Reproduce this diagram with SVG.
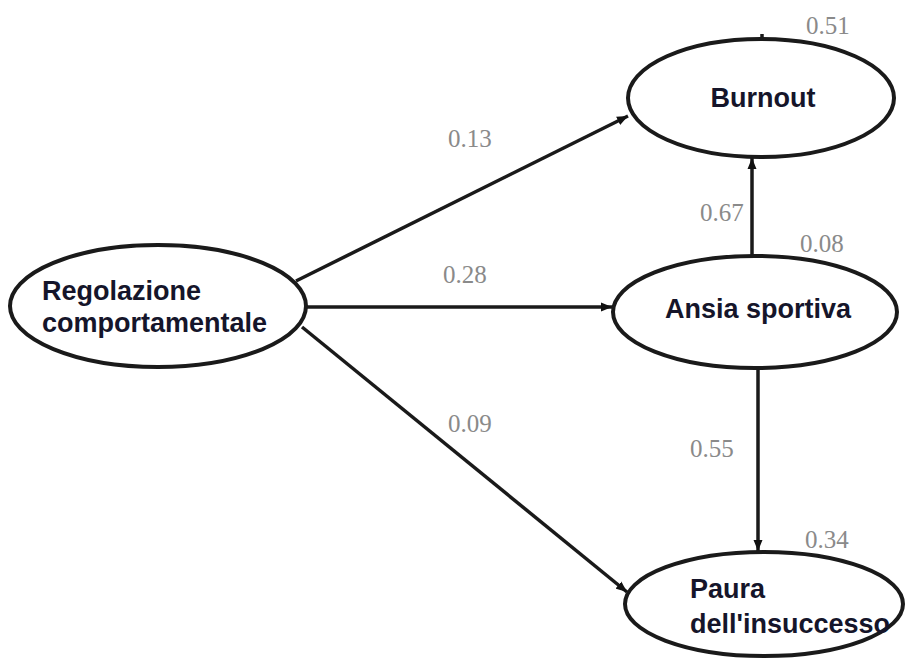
<svg xmlns="http://www.w3.org/2000/svg" width="907" height="666" viewBox="0 0 907 666">
<defs>
<marker id="arr" markerUnits="userSpaceOnUse" markerWidth="12" markerHeight="10" refX="11" refY="5" orient="auto">
<path d="M0,0.5 L11,5 L0,9.5 z" fill="#111"/>
</marker>
<style>
.node{fill:#fff;stroke:#1a1a1a;stroke-width:4}
.lbl{font-family:"Liberation Sans",Arial,sans-serif;font-weight:bold;font-size:27px;fill:#15152a}
.coef{font-family:"Liberation Serif","Times New Roman",serif;font-size:25px;fill:#8a8a8a}
.edge{stroke:#1a1a1a;stroke-width:3.5;fill:none}
</style>
</defs>
<rect width="907" height="666" fill="#fff"/>
<g id="connectors">
<line class="edge" x1="296" y1="281" x2="628" y2="116" marker-end="url(#arr)"/>
<line class="edge" x1="306" y1="307" x2="612" y2="307" marker-end="url(#arr)"/>
<line class="edge" x1="302" y1="327" x2="627" y2="592" marker-end="url(#arr)"/>
<line class="edge" x1="752" y1="256" x2="752" y2="158" marker-end="url(#arr)"/>
<line class="edge" x1="758" y1="368" x2="758" y2="551" marker-end="url(#arr)"/>
<line class="edge" x1="762" y1="34" x2="762" y2="40"/>
</g>
<g id="labels">
<text class="coef" x="448" y="147">0.13</text>
<text class="coef" x="443" y="283">0.28</text>
<text class="coef" x="448" y="432">0.09</text>
<text class="coef" x="700" y="221">0.67</text>
<text class="coef" x="800" y="252">0.08</text>
<text class="coef" x="690" y="457">0.55</text>
<text class="coef" x="805" y="548">0.34</text>
<text class="coef" x="806" y="34">0.51</text>
</g>
<g id="regolazione">
<ellipse class="node" cx="158" cy="306" rx="148" ry="61"/>
<text class="lbl" x="42" y="300">Regolazione</text>
<text class="lbl" x="42" y="332">comportamentale</text>
</g>
<g id="burnout">
<ellipse class="node" cx="761" cy="98" rx="133" ry="59"/>
<text class="lbl" x="763" y="107" text-anchor="middle">Burnout</text>
</g>
<g id="ansia">
<ellipse class="node" cx="755" cy="312" rx="142" ry="56"/>
<text class="lbl" x="758" y="318" text-anchor="middle">Ansia sportiva</text>
</g>
<g id="paura">
<ellipse class="node" cx="764" cy="604" rx="139" ry="52"/>
<text class="lbl" x="690" y="598">Paura</text>
<text class="lbl" x="690" y="633">dell'insuccesso</text>
</g>
</svg>
